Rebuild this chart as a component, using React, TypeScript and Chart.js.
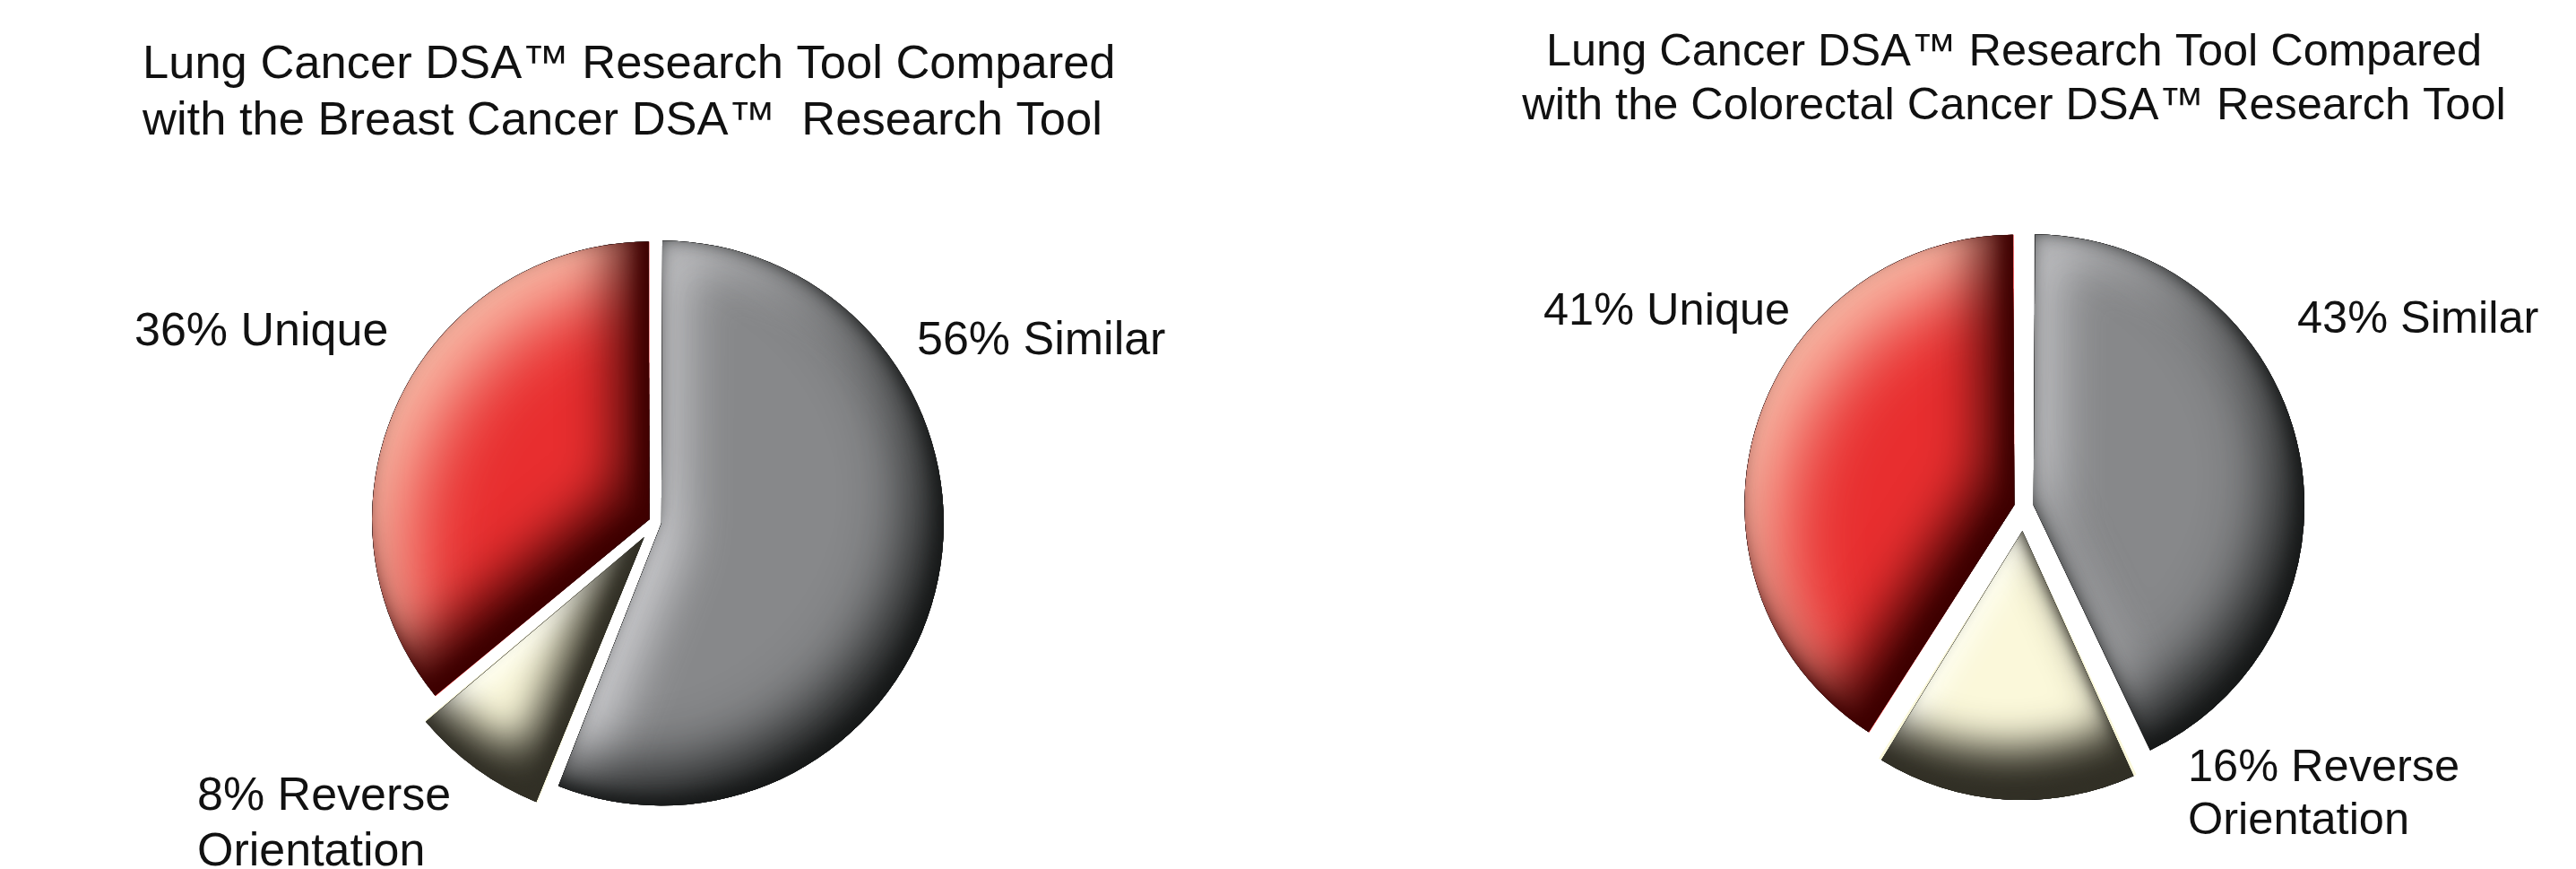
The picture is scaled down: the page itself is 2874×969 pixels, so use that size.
import React, { useEffect, useRef } from 'react';
import { Chart, registerables } from 'chart.js';

Chart.register(...registerables);

// ---------- data ----------
const sliceNames = ['Similar', 'Reverse Orientation', 'Unique'];
const breastValues = [56, 8, 36];
const colorectalValues = [43, 16, 41];
const breastTitle = ['Lung Cancer DSA™ Research Tool Compared', 'with the Breast Cancer DSA™  Research Tool'];
const colorectalTitle = ['Lung Cancer DSA™ Research Tool Compared', 'with the Colorectal Cancer DSA™ Research Tool'];

// ---------- styles ----------
const baseColors = ['#87888a', '#fbf8da', '#e82e2f'];
const lightColors = ['rgba(226,226,229,0.95)', 'rgba(255,255,244,1)', 'rgba(250,192,172,1)'];
const darkColors = ['rgba(22,24,24,1)', 'rgba(50,48,38,1)', 'rgba(62,0,0,1)'];
// [lightBlur, lightDx, lightDy, darkBlur, darkDx, darkDy, edgeBlur, edgeDx, edgeDy]
const shadeParams = [
  [55, 22, 22, 70, -34, -34, 20, -8, -8],
  [30, 10, 10, 45, -16, -58, 16, -6, -12],
  [85, 38, 38, 60, -36, -36, 20, -10, -10],
];
const FONT = '"Liberation Sans", Arial, Helvetica, sans-serif';

const leftLayout = {
  left: 0, width: 1437, height: 969,
  padding: { left: 25, right: 0, top: 195, bottom: 0 },
  radius: 308,
  offsets: [28, 84, 28],
  titleX: 159, titleAlign: 'left', titleY: [87, 150], titleSize: 52.5,
  labelSize: 52, lineGap: 62,
  anchors: [[1023, 395], [220, 903], [150, 385]],
};
const rightLayout = {
  left: 1437, width: 1437, height: 969,
  padding: { left: 205, right: 0, top: 163, bottom: 0 },
  radius: 296,
  offsets: [44, 104, 44],
  titleX: 810, titleAlign: 'center', titleY: [73, 133], titleSize: 50.5,
  labelSize: 50.5, lineGap: 59,
  anchors: [[1126, 371], [1004, 871], [285, 362]],
};

function labelLines(value: number, name: string): string[] {
  const parts = name.split(' ');
  if (parts.length > 1) return [`${value}% ${parts[0]}`, parts.slice(1).join(' ')];
  return [`${value}% ${name}`];
}

function innerShade(ctx: CanvasRenderingContext2D, outer: Path2D, color: string, blur: number, dx: number, dy: number) {
  ctx.save();
  ctx.shadowColor = color;
  ctx.shadowBlur = blur;
  ctx.shadowOffsetX = dx;
  ctx.shadowOffsetY = dy;
  ctx.fillStyle = '#000';
  ctx.fill(outer, 'evenodd');
  ctx.restore();
}

const bevelPlugin = {
  id: 'bevel',
  afterDatasetsDraw(chart: any) {
    const ctx: CanvasRenderingContext2D = chart.ctx;
    const meta = chart.getDatasetMeta(0);
    meta.data.forEach((arc: any, i: number) => {
      const { x, y, startAngle, endAngle, outerRadius } = arc.getProps(['x', 'y', 'startAngle', 'endAngle', 'outerRadius'], true);
      const off = (arc.options.offset || 0) / 4;
      const circ = endAngle - startAngle;
      const half = (startAngle + endAngle) / 2;
      const fix = 1 - Math.sin(Math.min(Math.PI, circ));
      const R = outerRadius + off * fix;
      const beta = Math.max(0.001, circ * R - off / Math.PI) / R;
      const a0 = startAngle + (circ - beta) / 2;
      const a1 = endAngle - (circ - beta) / 2;
      const cx = x + Math.cos(half) * off;
      const cy = y + Math.sin(half) * off;
      const path = new Path2D();
      path.moveTo(cx, cy);
      path.arc(cx, cy, R, a0, a1);
      path.closePath();
      const outer = new Path2D();
      outer.rect(cx - R * 4, cy - R * 4, R * 8, R * 8);
      outer.addPath(path);
      const [lb, ldx, ldy, db, ddx, ddy, eb, edx, edy] = shadeParams[i];
      ctx.save();
      ctx.clip(path);
      innerShade(ctx, outer, lightColors[i], lb, ldx, ldy);
      innerShade(ctx, outer, darkColors[i], db, ddx, ddy);
      innerShade(ctx, outer, darkColors[i], eb, edx, edy);
      ctx.restore();
    });
  },
};

const textPlugin = {
  id: 'texts',
  afterDraw(chart: any, _args: any, opts: any) {
    const ctx: CanvasRenderingContext2D = chart.ctx;
    ctx.save();
    ctx.fillStyle = '#111111';
    ctx.textBaseline = 'alphabetic';
    ctx.font = `${opts.titleSize}px ${FONT}`;
    ctx.textAlign = opts.titleAlign;
    opts.title.forEach((line: string, k: number) => ctx.fillText(line, opts.titleX, opts.titleY[k]));
    ctx.font = `${opts.labelSize}px ${FONT}`;
    ctx.textAlign = 'left';
    const labels: string[] = chart.data.labels;
    const values: number[] = chart.data.datasets[0].data;
    labels.forEach((name, i) => {
      const [ax, ay] = opts.anchors[i];
      labelLines(values[i], name).forEach((line, k) => ctx.fillText(line, ax, ay + k * opts.lineGap));
    });
    ctx.restore();
  },
};

function PieChart({ values, title, layout }: { values: number[]; title: string[]; layout: any }) {
  const ref = useRef<HTMLCanvasElement | null>(null);
  useEffect(() => {
    if (!ref.current) return;
    const chart = new Chart(ref.current, {
      type: 'pie',
      data: {
        labels: sliceNames,
        datasets: [
          {
            data: values,
            backgroundColor: baseColors,
            borderWidth: 0,
            offset: layout.offsets,
            hoverOffset: 0,
          } as any,
        ],
      },
      options: {
        responsive: false,
        animation: false,
        devicePixelRatio: 1,
        events: [],
        radius: layout.radius,
        layout: { padding: layout.padding },
        plugins: {
          legend: { display: false },
          title: { display: false },
          tooltip: { enabled: false },
          texts: {
            title,
            titleX: layout.titleX,
            titleAlign: layout.titleAlign,
            titleY: layout.titleY,
            titleSize: layout.titleSize,
            labelSize: layout.labelSize,
            lineGap: layout.lineGap,
            anchors: layout.anchors,
          },
        } as any,
      } as any,
      plugins: [bevelPlugin, textPlugin],
    });
    return () => chart.destroy();
  }, []);
  return (
    <canvas
      ref={ref}
      width={layout.width}
      height={layout.height}
      style={{ position: 'absolute', left: layout.left, top: 0, width: layout.width, height: layout.height }}
    />
  );
}

export default function App() {
  useEffect(() => {
    document.body.style.margin = '0';
    document.body.style.background = '#ffffff';
  }, []);
  return (
    <div style={{ position: 'relative', width: 2874, height: 969, background: '#ffffff', overflow: 'hidden' }}>
      <PieChart values={breastValues} title={breastTitle} layout={leftLayout} />
      <PieChart values={colorectalValues} title={colorectalTitle} layout={rightLayout} />
    </div>
  );
}
